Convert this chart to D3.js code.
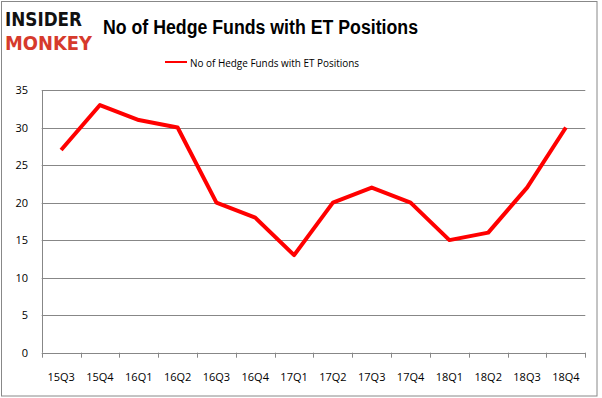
<!DOCTYPE html>
<html><head><meta charset="utf-8">
<script src="https://cdn.jsdelivr.net/npm/d3@7"></script>
<style>body{margin:0;background:#fff}svg{display:block}</style>
</head><body>
<script>
const categories = ["15Q3","15Q4","16Q1","16Q2","16Q3","16Q4","17Q1","17Q2","17Q3","17Q4","18Q1","18Q2","18Q3","18Q4"];
const values = [27,33,31,30,20,18,13,20,22,20,15,16,22,30];
const yTicks = [0,5,10,15,20,25,30,35];
const seriesName = "No of Hedge Funds with ET Positions";
const title = "No of Hedge Funds with ET Positions";

const W=602,H=398;
const svg=d3.select("body").append("svg").attr("width",W).attr("height",H);
svg.append("rect").attr("x",1.5).attr("y",1.5).attr("width",595.5).attr("height",394.5).attr("fill","#fff").attr("stroke","#888").attr("stroke-width",1);

const L=41.7,R=585.3,T=90,B=352.7;
const x=d3.scaleBand().domain(categories).range([L,R]);
const y=d3.scaleLinear().domain([0,35]).range([B,T]);

// grid
svg.append("g").selectAll("line").data(yTicks).join("line")
 .attr("x1",L).attr("x2",R).attr("y1",d=>Math.round(y(d))+0.5).attr("y2",d=>Math.round(y(d))+0.5)
 .attr("stroke","#878787").attr("stroke-width",1);

// y axis
svg.append("line").attr("x1",Math.round(L)+0.5).attr("x2",Math.round(L)+0.5).attr("y1",T).attr("y2",B).attr("stroke","#878787");
svg.append("g").selectAll("text").data(yTicks).join("text")
 .attr("x",28).attr("y",d=>y(d)+4).attr("text-anchor","end")
 .attr("font-family","'Open Sans',sans-serif").attr("font-size",11).attr("fill","#000").text(d=>d);

// x ticks
const bounds=categories.map(c=>x(c)).concat([R]);
svg.append("g").selectAll("line").data(bounds).join("line")
 .attr("x1",d=>Math.round(d)+0.5).attr("x2",d=>Math.round(d)+0.5).attr("y1",B).attr("y2",B+5).attr("stroke","#878787");
svg.append("g").selectAll("text").data(categories).join("text")
 .attr("x",d=>x(d)+x.bandwidth()/2).attr("y",381).attr("text-anchor","middle")
 .attr("font-family","'Open Sans',sans-serif").attr("font-size",11).attr("fill","#000").text(d=>d);

// line
const line=d3.line().x((d,i)=>x(categories[i])+x.bandwidth()/2).y(d=>y(d));
svg.append("path").datum(values).attr("d",line).attr("fill","none").attr("stroke","#ff0000").attr("stroke-width",4).attr("stroke-linejoin","round");

// title
svg.append("text").attr("x",103).attr("y",34).attr("font-family","'Liberation Sans',Arial,sans-serif").attr("font-weight","bold")
 .attr("font-size",20).attr("textLength",315).attr("lengthAdjust","spacingAndGlyphs").text(title);

// legend
svg.append("line").attr("x1",165).attr("x2",187).attr("y1",62).attr("y2",62).attr("stroke","#ff0000").attr("stroke-width",2);
svg.append("text").attr("x",190).attr("y",66.5).attr("font-family","'Open Sans',sans-serif").attr("font-size",11)
 .attr("textLength",169).attr("lengthAdjust","spacingAndGlyphs").text(seriesName);

// logo
svg.append("text").attr("x",5).attr("y",26).attr("font-family","'DejaVu Sans',sans-serif").attr("font-weight","bold")
 .attr("font-size",19).attr("textLength",77).attr("lengthAdjust","spacingAndGlyphs").attr("fill","#111").text("INSIDER");
svg.append("text").attr("x",5).attr("y",50).attr("font-family","'DejaVu Sans',sans-serif").attr("font-weight","bold")
 .attr("font-size",20).attr("textLength",87).attr("lengthAdjust","spacingAndGlyphs").attr("fill","#d63a2c").text("MONKEY");
</script>
</body></html>
